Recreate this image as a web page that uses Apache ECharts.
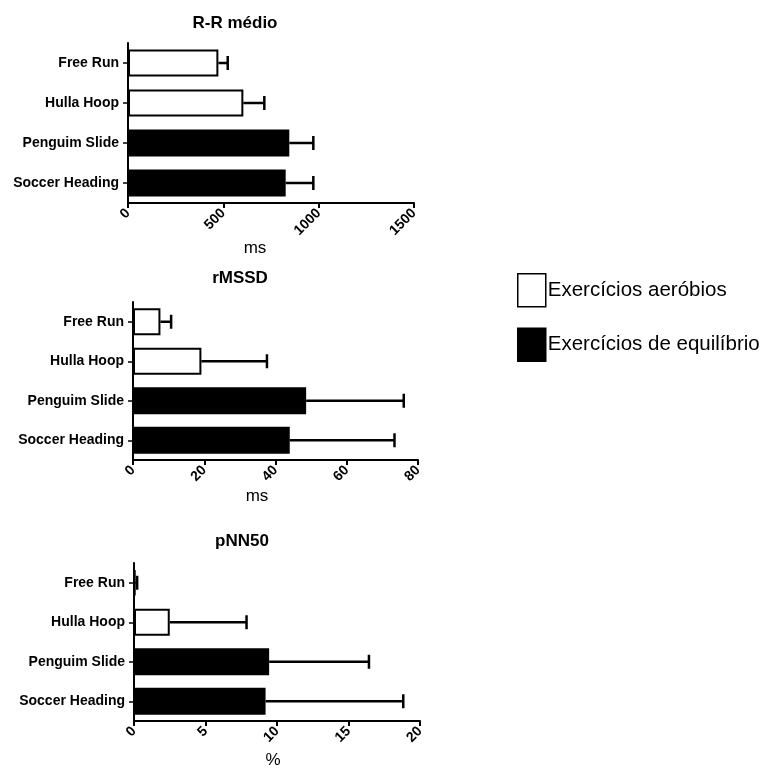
<!DOCTYPE html>
<html><head><meta charset="utf-8">
<script src="https://cdn.jsdelivr.net/npm/echarts@6/dist/echarts.min.js"></script>
<style>html,body{margin:0;padding:0;background:#fff}#c{width:769px;height:771px}</style>
</head><body><div id="c"></div>
<script>
var categories = ['Free Run', 'Hulla Hoop', 'Penguim Slide', 'Soccer Heading'];
var groups = ['aer', 'aer', 'bal', 'bal'];
var groupNames = ['Exercícios aeróbios', 'Exercícios de equilíbrio'];
var chartTitles = ['R-R médio', 'rMSSD', 'pNN50'];
var axisNames = ['ms', 'ms', '%'];
var rrMean = [474, 605, 846, 827];
var rrErr = [49, 110, 126, 145];
var rmssdMean = [7.7, 19.2, 48.6, 44.0];
var rmssdErr = [3.0, 18.4, 27.4, 29.4];
var pnnMean = [0.1, 2.5, 9.45, 9.2];
var pnnErr = [0.12, 5.37, 6.98, 9.63];
var axisMax = [1500, 80, 20];
var axisInterval = [500, 20, 5];

var means = [rrMean, rmssdMean, pnnMean];
var errs = [rrErr, rmssdErr, pnnErr];

var FONT = 'Liberation Sans, Arial, sans-serif';
var grids = [
  {left: 128, width: 286, top: 43, height: 160},
  {left: 133, width: 285, top: 302, height: 158},
  {left: 134, width: 286, top: 563, height: 158}
];
var titlePos = [[230, 10], [235, 265], [237, 528]];
var namePos = [[250, 235], [252, 483], [268, 747]];

var xAxes = [], yAxes = [], series = [], titles = [];
grids.forEach(function (g, k) {
  xAxes.push({
    type: 'value', gridIndex: k, min: 0, max: axisMax[k], interval: axisInterval[k],
    splitLine: {show: false},
    axisLine: {show: true, lineStyle: {color: '#000', width: 2}},
    axisTick: {show: true, length: 5, lineStyle: {color: '#000', width: 2}},
    axisLabel: {rotate: 45, color: '#000', fontFamily: FONT, fontWeight: 'bold', fontSize: 14, margin: 8,
      formatter: function (v) { return String(v); }}
  });
  yAxes.push({
    type: 'category', gridIndex: k, data: categories, inverse: true,
    axisLine: {show: true, lineStyle: {color: '#000', width: 2}},
    axisTick: {show: true, alignWithLabel: true, length: 5, lineStyle: {color: '#000', width: 1.5}},
    axisLabel: {color: '#000', fontFamily: FONT, fontWeight: 'bold', fontSize: 14, margin: 9}
  });
  titles.push({
    text: chartTitles[k], left: titlePos[k][0], top: titlePos[k][1], textAlign: 'center',
    textStyle: {fontFamily: FONT, fontWeight: 'bold', fontSize: 17, color: '#000'}
  });
  titles.push({
    text: axisNames[k], left: namePos[k][0], top: namePos[k][1], textAlign: 'center',
    textStyle: {fontFamily: FONT, fontWeight: 'normal', fontSize: 17, color: '#000'}
  });
  ['aer', 'bal'].forEach(function (gr, gi) {
    series.push({
      type: 'bar', name: groupNames[gi], xAxisIndex: k, yAxisIndex: k,
      barWidth: 27, barGap: '-100%',
      data: means[k].map(function (v, i) { return groups[i] === gr ? v : '-'; }),
      itemStyle: {color: gi === 0 ? '#fff' : '#000', borderColor: '#000', borderWidth: 2},
      emphasis: {disabled: true}, animation: false
    });
  });
  series.push({
    type: 'custom', xAxisIndex: k, yAxisIndex: k, animation: false, silent: true, z: 10,
    data: means[k].map(function (v, i) { return [i, v, v + errs[k][i]]; }),
    renderItem: function (params, api) {
      var i = api.value(0);
      var p0 = api.coord([api.value(1), i]);
      var p1 = api.coord([api.value(2), i]);
      var st = {stroke: '#000', lineWidth: 2.5};
      return {type: 'group', children: [
        {type: 'line', shape: {x1: p0[0], y1: p0[1], x2: p1[0], y2: p1[1]}, style: st},
        {type: 'line', shape: {x1: p1[0], y1: p1[1] - 7, x2: p1[0], y2: p1[1] + 7}, style: st}
      ]};
    },
    encode: {x: [1, 2], y: 0}
  });
});

var chart = echarts.init(document.getElementById('c'), null, {renderer: 'canvas'});
chart.setOption({
  animation: false,
  backgroundColor: '#fff',
  title: titles,
  grid: grids,
  xAxis: xAxes,
  yAxis: yAxes,
  legend: {
    orient: 'vertical', left: 512, top: 268, itemWidth: 28, itemHeight: 33, itemGap: 20,
    icon: 'rect', data: groupNames, selectedMode: false,
    itemStyle: {borderColor: '#000', borderWidth: 1.5},
    textStyle: {fontFamily: FONT, fontSize: 20.5, color: '#000', padding: [0, 0, 0, -3]}
  },
  series: series
});
</script></body></html>
